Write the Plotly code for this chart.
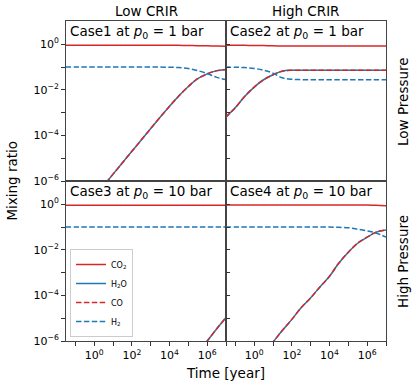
import plotly.graph_objects as go
from plotly.subplots import make_subplots

# ---------------- data ----------------
time_year = [0.03, 0.1, 0.3, 1, 3, 10, 30, 100, 300, 1e3, 3e3, 1e4, 3e4, 1e5, 3e5, 1e6, 3e6, 1e7]

# Case1: low CRIR, p0 = 1 bar
case1_co2 = [0.9, 0.9, 0.9, 0.9, 0.9, 0.9, 0.9, 0.9, 0.9, 0.9, 0.899, 0.898, 0.895, 0.886, 0.87, 0.85, 0.832, 0.822]
case1_h2o = [6e-9, 2e-8, 6e-8, 2e-7, 6e-7, 2e-6, 6e-6, 2e-5, 6e-5, 2e-4, 6e-4, 1.9e-3, 5.2e-3, 0.014, 0.030, 0.050, 0.068, 0.078]
case1_co = case1_h2o
case1_h2 = [0.1, 0.1, 0.1, 0.1, 0.1, 0.1, 0.1, 0.1, 0.1, 0.1, 0.0994, 0.098, 0.095, 0.086, 0.070, 0.052, 0.036, 0.028]

# Case2: high CRIR, p0 = 1 bar
case2_co2 = [0.9, 0.898, 0.895, 0.887, 0.873, 0.854, 0.836, 0.83, 0.83, 0.83, 0.83, 0.83, 0.83, 0.83, 0.83, 0.83, 0.83, 0.83]
case2_h2o = [6.2e-4, 1.66e-3, 5e-3, 0.0132, 0.027, 0.046, 0.066, 0.072, 0.072, 0.072, 0.072, 0.072, 0.072, 0.072, 0.072, 0.072, 0.072, 0.072]
case2_co = case2_h2o
case2_h2 = [0.0994, 0.098, 0.095, 0.087, 0.073, 0.054, 0.034, 0.029, 0.028, 0.028, 0.028, 0.028, 0.028, 0.028, 0.028, 0.028, 0.028, 0.028]

# Case3: low CRIR, p0 = 10 bar
case3_co2 = [0.9] * 18
case3_h2o = [3e-14, 1e-13, 3e-13, 1e-12, 3e-12, 1e-11, 3e-11, 1e-10, 3e-10, 1e-9, 3e-9, 1e-8, 3e-8, 1e-7, 3e-7, 1e-6, 3.2e-6, 1.07e-5]
case3_co = case3_h2o
case3_h2 = [0.1] * 18

# Case4: high CRIR, p0 = 10 bar
case4_co2 = [0.93, 0.93, 0.93, 0.93, 0.93, 0.93, 0.93, 0.93, 0.93, 0.93, 0.93, 0.93, 0.93, 0.928, 0.925, 0.918, 0.898, 0.86]
case4_h2o = [2.8e-9, 8.9e-9, 2.8e-8, 8.9e-8, 2.8e-7, 9e-7, 2.8e-6, 8.9e-6, 2.8e-5, 7.9e-5, 2.3e-4, 6.9e-4, 2.5e-3, 7.9e-3, 0.019, 0.036, 0.060, 0.075]
case4_co = case4_h2o
case4_h2 = [0.1, 0.1, 0.1, 0.1, 0.1, 0.1, 0.1, 0.1, 0.1, 0.1, 0.1, 0.0995, 0.0975, 0.092, 0.081, 0.068, 0.055, 0.036]

case_titles = ["Case1 at <i>p</i><sub>0</sub> = 1 bar", "Case2 at <i>p</i><sub>0</sub> = 1 bar",
               "Case3 at <i>p</i><sub>0</sub> = 10 bar", "Case4 at <i>p</i><sub>0</sub> = 10 bar"]
column_titles = ["Low CRIR", "High CRIR"]
row_titles = ["Low Pressure", "High Pressure"]
species = ["CO<sub>2</sub>", "H<sub>2</sub>O", "CO", "H<sub>2</sub>"]

x_tickvals = [1, 100, 1e4, 1e6]
x_ticktext = ["10<sup>0</sup>", "10<sup>2</sup>", "10<sup>4</sup>", "10<sup>6</sup>"]
x_minorvals = [0.1, 10, 1e3, 1e5, 1e7]
y_tickvals = [1e-6, 1e-4, 1e-2, 1]
y_ticktext = ["10<sup>−6</sup>", "10<sup>−4</sup>", "10<sup>−2</sup>", "10<sup>0</sup>"]
y_minorvals = [1e-5, 1e-3, 1e-1]

RED = "#d62728"
BLUE = "#1f77b4"
DASH = "5.5px,2.4px"
FONT = "DejaVu Sans"

cases = [
    (1, 1, case1_co2, case1_h2o, case1_co, case1_h2),
    (1, 2, case2_co2, case2_h2o, case2_co, case2_h2),
    (2, 1, case3_co2, case3_h2o, case3_co, case3_h2),
    (2, 2, case4_co2, case4_h2o, case4_co, case4_h2),
]

fig = make_subplots(rows=2, cols=2, shared_xaxes=True, shared_yaxes=True,
                    horizontal_spacing=0, vertical_spacing=0)

for idx, (r, c, co2, h2o, co, h2) in enumerate(cases):
    show = (r == 2 and c == 1)
    common = dict(x=time_year, mode="lines", showlegend=show, line_shape="spline")
    fig.add_trace(go.Scatter(y=h2o, name=species[1], legendrank=2,
                             line=dict(color=BLUE, width=1.5, dash="solid"), **common), row=r, col=c)
    fig.add_trace(go.Scatter(y=co, name=species[2], legendrank=3,
                             line=dict(color=RED, width=1.5, dash=DASH), **common), row=r, col=c)
    fig.add_trace(go.Scatter(y=co2, name=species[0], legendrank=1,
                             line=dict(color=RED, width=1.5, dash="solid"), **common), row=r, col=c)
    fig.add_trace(go.Scatter(y=h2, name=species[3], legendrank=4,
                             line=dict(color=BLUE, width=1.5, dash=DASH), **common), row=r, col=c)

axis_common = dict(type="log", showgrid=False, zeroline=False, showline=True, mirror=True,
                   linecolor="#444444", linewidth=1, tickcolor="#333333",
                   tickfont=dict(family=FONT, size=11, color="black"))

for r in (1, 2):
    for c in (1, 2):
        xt = "outside" if r == 2 else ""
        fig.update_xaxes(range=[-1.5, 7], tickmode="array", tickvals=x_tickvals, ticktext=x_ticktext,
                         ticks=xt, ticklen=4,
                         minor=dict(tickmode="array", tickvals=x_minorvals, ticks=xt, ticklen=4,
                                    tickcolor="#333333", showgrid=False),
                         showticklabels=(r == 2), row=r, col=c, **axis_common)
        yt = "outside" if c == 1 else "inside"
        fig.update_yaxes(range=[-6, 1.02], tickmode="array", tickvals=y_tickvals, ticktext=y_ticktext,
                         ticks=yt, ticklen=4,
                         minor=dict(tickmode="array", tickvals=y_minorvals, ticks=yt, ticklen=4,
                                    tickcolor="#333333", showgrid=False),
                         showticklabels=(c == 1), row=r, col=c, **axis_common)

annotations = []
axis_refs = [("x", "y"), ("x2", "y2"), ("x3", "y3"), ("x4", "y4")]
for (xr, yr), txt in zip(axis_refs, case_titles):
    annotations.append(dict(text=txt, xref=xr + " domain", yref=yr + " domain", x=0.012, y=0.93,
                            xanchor="left", yanchor="middle", showarrow=False,
                            font=dict(family=FONT, size=13.5, color="black")))
for i, txt in enumerate(column_titles):
    annotations.append(dict(text=txt, xref="paper", yref="paper", x=0.25 + 0.5 * i, y=1,
                            xanchor="center", yanchor="bottom", yshift=0, showarrow=False,
                            font=dict(family=FONT, size=13.5, color="black")))
for i, txt in enumerate(row_titles):
    annotations.append(dict(text=txt, xref="paper", yref="paper", x=1.053, y=0.75 - 0.5 * i,
                            xanchor="center", yanchor="middle", textangle=-90, showarrow=False,
                            font=dict(family=FONT, size=13.5, color="black")))
annotations.append(dict(text="Mixing ratio", xref="paper", yref="paper", x=-0.17, y=0.5,
                        xanchor="center", yanchor="middle", textangle=-90, showarrow=False,
                        font=dict(family=FONT, size=13.5, color="black")))
annotations.append(dict(text="Time [year]", xref="paper", yref="paper", x=0.498, y=-0.099,
                        xanchor="center", yanchor="middle", showarrow=False,
                        font=dict(family=FONT, size=13.5, color="black")))

fig.update_layout(
    width=415, height=387,
    margin=dict(l=66, r=29, t=21, b=46),
    paper_bgcolor="white", plot_bgcolor="white",
    annotations=annotations,
    legend=dict(x=0.0125, y=0.0125, xanchor="left", yanchor="bottom",
                bgcolor="rgba(255,255,255,0.8)", bordercolor="#cccccc", borderwidth=1,
                font=dict(family=FONT, size=8, color="black"),
                tracegroupgap=0, itemwidth=30),
    font=dict(family=FONT),
)

fig.write_html("out.html", config={"displayModeBar": False},
               post_script="document.body.style.margin='0';document.body.style.overflow='hidden';")
